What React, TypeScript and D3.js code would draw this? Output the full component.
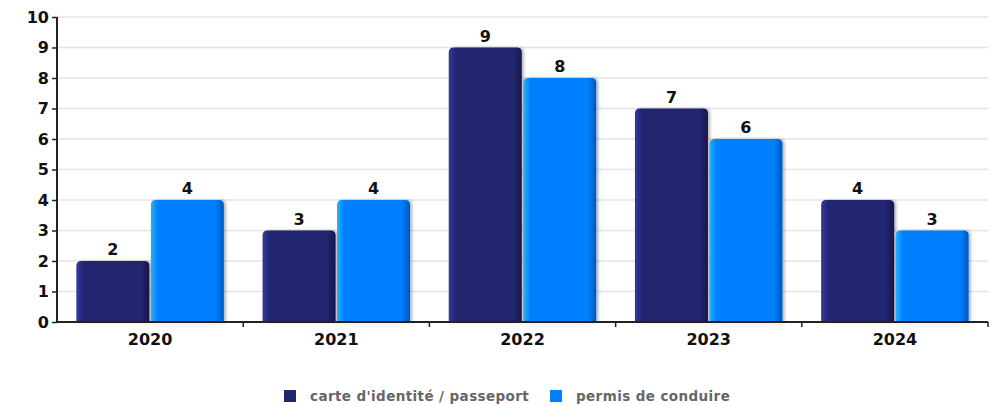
import React, { useRef, useEffect } from "react";
import * as d3 from "d3";

const years = ["2020", "2021", "2022", "2023", "2024"];
const seriesNames = ["carte d'identité / passeport", "permis de conduire"];
const idValues = [2, 3, 9, 7, 4];
const permisValues = [4, 4, 8, 6, 3];
const yTicks = [0, 1, 2, 3, 4, 5, 6, 7, 8, 9, 10];

const colors = [
  { base: "#22266F", light: "#3338A0", dark: "#15174A" },
  { base: "#0080FF", light: "#22B4FF", dark: "#0058B8" },
];

const width = 998;
const height = 406;
const margin = { top: 17, right: 10, bottom: 84, left: 57 };

const App = () => {
  const svgRef = useRef<SVGSVGElement>(null);

  useEffect(() => {
    if (!svgRef.current) return;
    const svg = d3.select(svgRef.current);
    svg.selectAll("*").remove();

    const plotW = width - margin.left - margin.right;
    const plotH = height - margin.top - margin.bottom;

    const x = d3.scaleBand(years, [0, plotW]).paddingInner(0).paddingOuter(0);
    const inner = d3.scaleBand(["0", "1"], [0, x.bandwidth()]).paddingInner(0.02).paddingOuter(0.26);
    const y = d3.scaleLinear([0, 10], [plotH, 0]);

    const defs = svg.append("defs");
    colors.forEach((c, i) => {
      const g = defs.append("linearGradient").attr("id", `grad${i}`).attr("x1", 0).attr("x2", 1).attr("y1", 0).attr("y2", 0);
      g.append("stop").attr("offset", "0%").attr("stop-color", c.light);
      g.append("stop").attr("offset", "10%").attr("stop-color", c.base);
      g.append("stop").attr("offset", "88%").attr("stop-color", c.base);
      g.append("stop").attr("offset", "100%").attr("stop-color", c.dark);
    });
    const shadow = defs.append("filter").attr("id", "shadow").attr("x", "-10%").attr("y", "-10%").attr("width", "130%").attr("height", "130%");
    shadow.append("feDropShadow").attr("dx", 2).attr("dy", 0).attr("stdDeviation", 1.5).attr("flood-color", "#000").attr("flood-opacity", 0.3);

    const plot = svg.append("g").attr("transform", `translate(${margin.left},${margin.top})`);

    // grid
    plot.append("g").selectAll("line").data(yTicks.filter((t) => t > 0)).join("line")
      .attr("x1", 0).attr("x2", plotW)
      .attr("y1", (d) => y(d)).attr("y2", (d) => y(d))
      .attr("stroke", "#e4e4e4").attr("stroke-width", 1.5);

    const data = years.map((yr, i) => ({ yr, vals: [idValues[i], permisValues[i]] }));

    const barPath = (x0: number, w: number, top: number, bottom: number) => {
      const r = Math.min(5, bottom - top);
      return `M${x0},${bottom}V${top + r}Q${x0},${top} ${x0 + r},${top}H${x0 + w - r}Q${x0 + w},${top} ${x0 + w},${top + r}V${bottom}Z`;
    };

    const groups = plot.append("g").selectAll("g").data(data).join("g")
      .attr("transform", (d) => `translate(${x(d.yr)},0)`);

    groups.selectAll("path").data((d) => d.vals.map((v, i) => ({ v, i }))).join("path")
      .attr("d", (d) => barPath(inner(String(d.i))!, inner.bandwidth(), y(d.v), y(0)))
      .attr("fill", (d) => `url(#grad${d.i})`)
      .attr("filter", "url(#shadow)");

    groups.selectAll("text").data((d) => d.vals.map((v, i) => ({ v, i }))).join("text")
      .attr("x", (d) => inner(String(d.i))! + inner.bandwidth() / 2)
      .attr("y", (d) => y(d.v) - 6)
      .attr("text-anchor", "middle")
      .attr("font-family", "DejaVu Sans")
      .attr("font-weight", "bold")
      .attr("font-size", 16)
      .attr("fill", "#111")
      .text((d) => d.v);

    // y axis
    const yAxis = plot.append("g").call(d3.axisLeft(y).tickValues(yTicks).tickSize(5).tickFormat(d3.format("d")));
    yAxis.select(".domain").attr("stroke", "#222").attr("stroke-width", 2).attr("d", `M0,${plotH}V0`);
    yAxis.selectAll(".tick line").attr("stroke", "#222").attr("stroke-width", 1.5);
    yAxis.selectAll("text").attr("font-family", "DejaVu Sans").attr("font-weight", "bold")
      .attr("font-size", 16).attr("fill", "#111").attr("x", -8);

    // x axis
    const xAxis = plot.append("g").attr("transform", `translate(0,${plotH})`)
      .call(d3.axisBottom(x).tickSize(0));
    xAxis.select(".domain").attr("stroke", "#222").attr("stroke-width", 2).attr("d", `M0,0H${plotW}`);
    xAxis.selectAll("text").attr("font-family", "DejaVu Sans").attr("font-weight", "bold")
      .attr("font-size", 16).attr("fill", "#111").attr("dy", "1.25em");
    plot.append("g").selectAll("line").data(years.slice(1).concat(["end"])).join("line")
      .attr("x1", (d) => (d === "end" ? plotW : x(d)!))
      .attr("x2", (d) => (d === "end" ? plotW : x(d)!))
      .attr("y1", plotH).attr("y2", plotH + 5)
      .attr("stroke", "#222").attr("stroke-width", 1.5);

    // legend
    const legend = svg.append("g").attr("transform", `translate(0,396)`);
    const legendX = [284, 550];
    seriesNames.forEach((name, i) => {
      legend.append("rect").attr("x", legendX[i]).attr("y", -6).attr("width", 12).attr("height", 12).attr("fill", colors[i].base);
      legend.append("text").attr("x", legendX[i] + 26).attr("y", 5)
        .attr("font-family", "DejaVu Sans").attr("font-weight", "bold")
        .attr("font-size", 13.5).attr("letter-spacing", 0.4).attr("fill", "#666").text(name);
    });
  }, []);

  return <svg ref={svgRef} width={width} height={height} style={{ display: "block", margin: "-8px -8px 0 -8px" }} />;
};

export default App;
